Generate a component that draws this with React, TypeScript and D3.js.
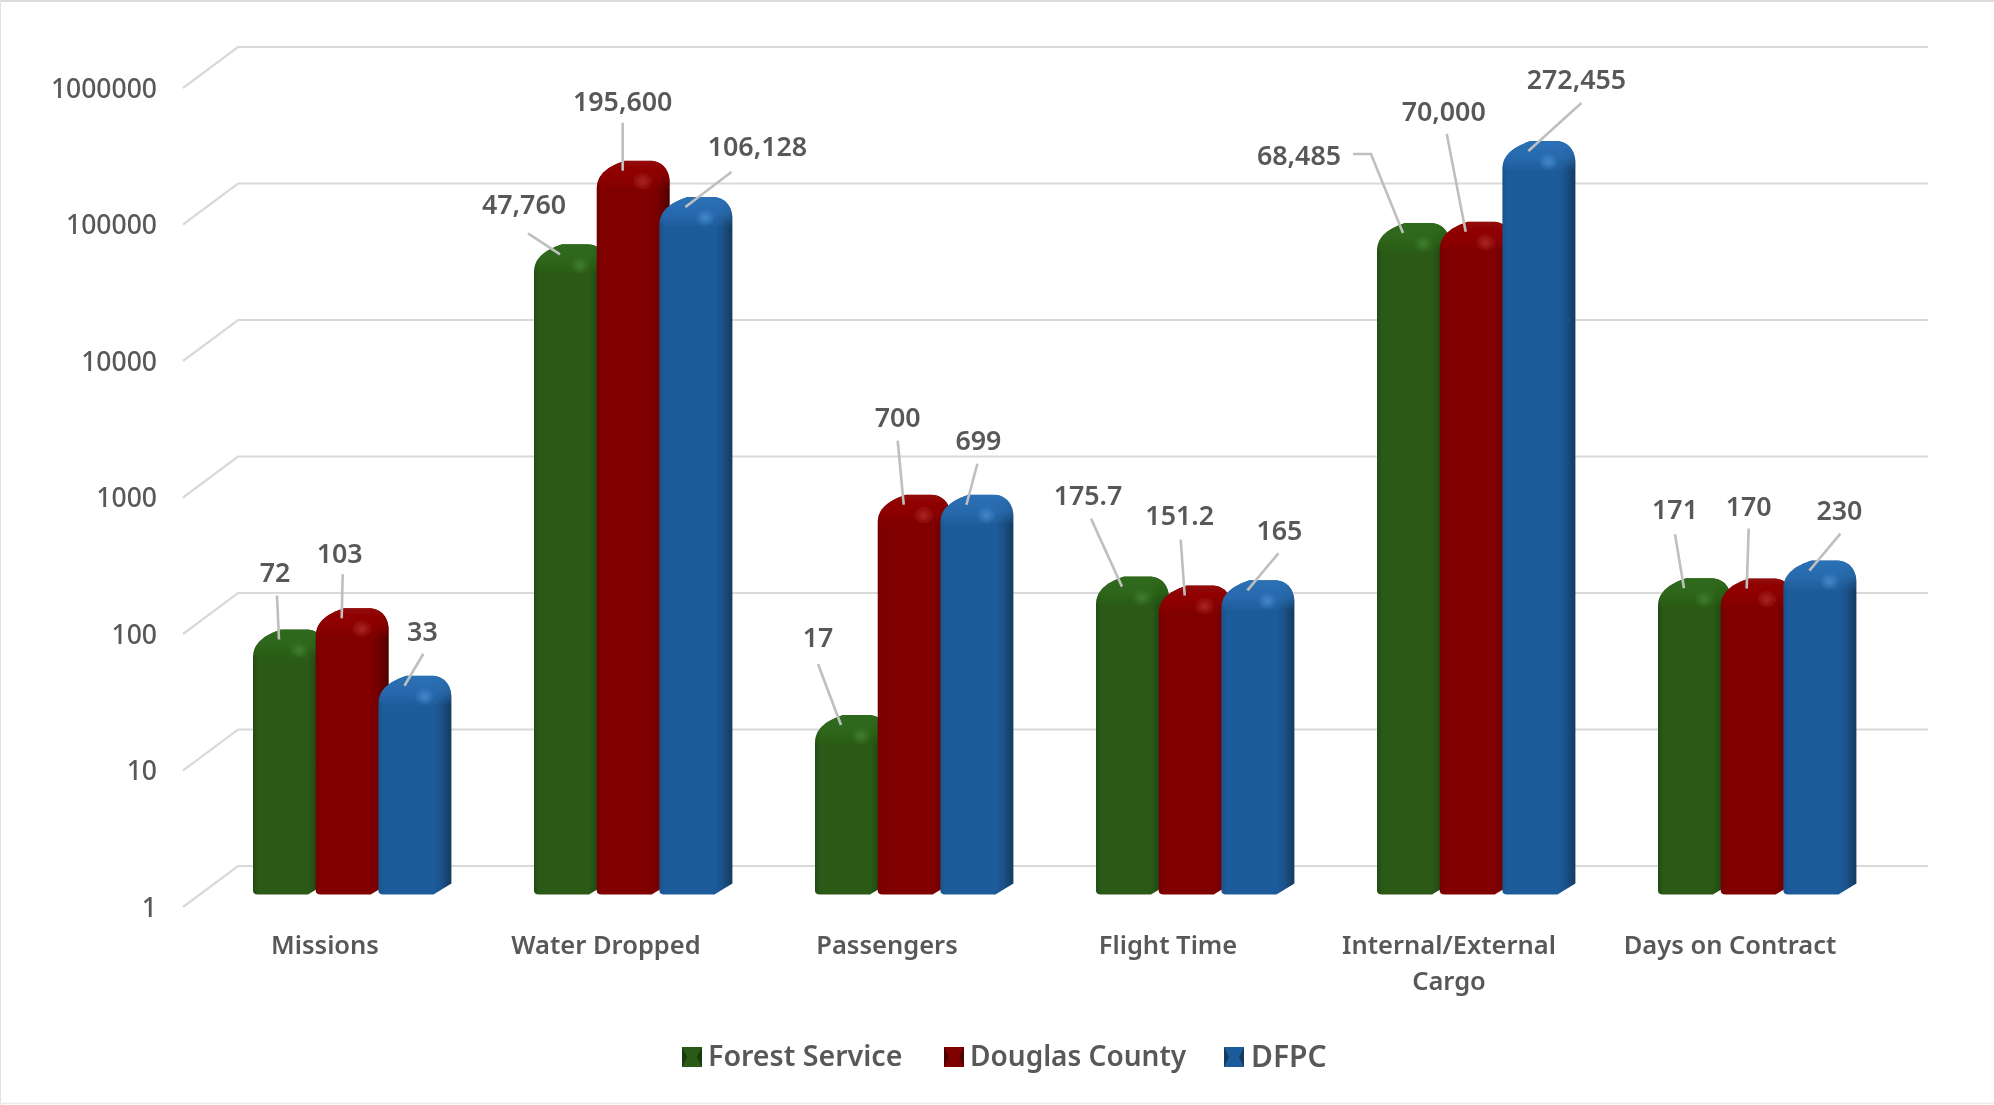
import React from "react";
import * as d3 from "d3";

const categories = ["Missions", "Water Dropped", "Passengers", "Flight Time", "Internal/External\nCargo", "Days on Contract"];
const seriesNames = ["Forest Service", "Douglas County", "DFPC"];
const forestService = [72, 47760, 17, 175.7, 68485, 171];
const douglasCounty = [103, 195600, 700, 151.2, 70000, 170];
const dfpc = [33, 106128, 699, 165, 272455, 230];
const seriesValues = [forestService, douglasCounty, dfpc];
const forestLabels = ["72", "47,760", "17", "175.7", "68,485", "171"];
const douglasLabels = ["103", "195,600", "700", "151.2", "70,000", "170"];
const dfpcLabels = ["33", "106,128", "699", "165", "272,455", "230"];
const seriesLabels = [forestLabels, douglasLabels, dfpcLabels];
const yTicks = [1, 10, 100, 1000, 10000, 100000, 1000000];

// Layout, separate from the data: label centre and leader start, relative to each bar's top anchor.
const labelOffsets = [
  [[-4, -65], [-36, -48], [-23, -85], [-34, -89], [-104, -75], [-9, -76]],
  [[-2, -63], [0, -67], [-6, -85], [-5, -78], [-22, -118], [2, -80]],
  [[18, -52], [72, -58], [12, -62], [32, -58], [48, -69], [30, -58]],
];
const leaderOffsets = [
  [[-2, -44], [-32, -21], [-23, -61], [-31, -68], [-50, -79], [-9, -54]],
  [[1, -44], [0, -48], [-6, -64], [-4, -56], [-19, -98], [2, -60]],
  [[19, -32], [46, -35], [11, -41], [31, -37], [53, -48], [31, -37]],
];
const palette = [
  { id: "g", base: "#2a5a17", edge: "#214a12", dark: "#173a0c", rim: "#2f6a1b", glow: "#478a38" },
  { id: "r", base: "#800000", edge: "#720000", dark: "#4f0000", rim: "#930707", glow: "#b93535" },
  { id: "b", base: "#1f5c9b", edge: "#1c5289", dark: "#143a60", rim: "#2b70b5", glow: "#4f97d8" },
];
const FONT = "'Noto Sans', sans-serif";
const TEXT = "#595959";

const W = 1994, H = 1105;
const x0 = d3.scaleBand<string>().domain(categories).range([183, 1869]);
const x1 = d3.scaleBand<string>().domain(seriesNames).range([0, 188.1]);
const y = d3.scaleLog().domain([1, 1000000]).range([893, 74]);
const BAR_W = 73;

function barPath(x: number, top: number, bottom: number) {
  const r = x + BAR_W;
  const p = d3.path();
  p.moveTo(x, bottom - 4);
  p.lineTo(x, top + 28);
  p.bezierCurveTo(x, top + 12, x + 14, top + 5, x + 28, top);
  p.lineTo(r - 20, top);
  p.bezierCurveTo(r - 7, top, r, top + 10, r, top + 22);
  p.lineTo(r, bottom - 11);
  p.lineTo(r - 18, bottom);
  p.lineTo(x + 5, bottom);
  p.quadraticCurveTo(x, bottom, x, bottom - 4);
  p.closePath();
  return p.toString();
}

export default function App() {
  return (
    <svg width={W} height={H} viewBox={`0 0 ${W} ${H}`} style={{ position: "absolute", left: 0, top: 0, background: "#fff" }} fontFamily={FONT}>
      <defs>
        <filter id="soft" x="-2%" y="-2%" width="104%" height="104%">
          <feGaussianBlur stdDeviation="0.55" />
        </filter>
        {palette.map((c) => (
          <React.Fragment key={c.id}>
            <linearGradient id={`side-${c.id}`} x1="0" x2="1" y1="0" y2="0">
              <stop offset="0" stopColor={c.edge} />
              <stop offset="0.07" stopColor={c.base} />
              <stop offset="0.76" stopColor={c.base} />
              <stop offset="0.86" stopColor={c.edge} />
              <stop offset="1" stopColor={c.dark} />
            </linearGradient>
            <linearGradient id={`rim-${c.id}`} x1="0" x2="0" y1="0" y2="1">
              <stop offset="0" stopColor={c.rim} />
              <stop offset="0.55" stopColor={c.rim} stopOpacity="0.7" />
              <stop offset="1" stopColor={c.rim} stopOpacity="0" />
            </linearGradient>
            <radialGradient id={`glow-${c.id}`}>
              <stop offset="0" stopColor={c.glow} stopOpacity="0.7" />
              <stop offset="1" stopColor={c.glow} stopOpacity="0" />
            </radialGradient>
          </React.Fragment>
        ))}
      </defs>

      <line x1={0} y1={1} x2={W} y2={1} stroke="#dcdcdc" strokeWidth={2} />
      <line x1={0.5} y1={0} x2={0.5} y2={H} stroke="#e2e2e2" strokeWidth={1} />
      <line x1={0} y1={H - 1.5} x2={W} y2={H - 1.5} stroke="#ececec" strokeWidth={1.5} />

      <g filter="url(#soft)">
        {yTicks.map((t) => {
          const f = y(t) + 14;
          const b = y(t) - 27;
          return (
            <g key={t}>
              <polyline points={`183,${f} 238,${b} 1928,${b}`} fill="none" stroke="#d9d9d9" strokeWidth={2.2} />
              <text x={157} y={f + 2.5} textAnchor="end" dominantBaseline="middle" fontSize={26.5} fontWeight={500} fill={TEXT}>
                {d3.format("d")(t)}
              </text>
            </g>
          );
        })}

        {categories.map((cat, ci) => {
          const start = (x0(cat) as number) + x0.bandwidth() / 2 - 70.5;
          return (
            <g key={cat}>
              {seriesNames.map((s, si) => {
                const c = palette[si];
                const x = start + (x1(s) as number);
                const top = y(seriesValues[si][ci]) - 10;
                const bottom = y(1) + 1.5;
                const clip = `clip-${ci}-${si}`;
                return (
                  <g key={s}>
                    <clipPath id={clip}>
                      <path d={barPath(x, top, bottom)} />
                    </clipPath>
                    <path d={barPath(x, top, bottom)} fill={`url(#side-${c.id})`} />
                    <g clipPath={`url(#${clip})`}>
                      <rect x={x} y={top} width={BAR_W} height={30} fill={`url(#rim-${c.id})`} />
                      <ellipse cx={x + 46} cy={top + 21} rx={10} ry={9} fill={`url(#glow-${c.id})`} />
                    </g>
                  </g>
                );
              })}
              {cat.split("\n").map((line, li) => (
                <text key={line} x={(x0(cat) as number) + x0.bandwidth() / 2 + 1.5} y={947.5 + li * 36} textAnchor="middle" dominantBaseline="middle" fontSize={25.5} fontWeight={600} fill={TEXT}>
                  {line}
                </text>
              ))}
            </g>
          );
        })}

        {categories.map((cat, ci) => {
          const start = (x0(cat) as number) + x0.bandwidth() / 2 - 70.5;
          return seriesNames.map((s, si) => {
            const ax = start + (x1(s) as number) + 26;
            const ay = y(seriesValues[si][ci]);
            const [lx, ly] = labelOffsets[si][ci];
            const [sx, sy] = leaderOffsets[si][ci];
            const pts = si === 0 && ci === 4
              ? `${ax + sx},${ay + sy} ${ax + sx + 18},${ay + sy} ${ax},${ay}`
              : `${ax + sx},${ay + sy} ${ax},${ay}`;
            return (
              <g key={s + cat}>
                <polyline points={pts} fill="none" stroke="#bfbfbf" strokeWidth={2.6} />
                <text x={ax + lx} y={ay + ly} textAnchor="middle" dominantBaseline="middle" fontSize={26.8} fontWeight={600} fill={TEXT}>
                  {seriesLabels[si][ci]}
                </text>
              </g>
            );
          });
        })}

        {seriesNames.map((s, si) => {
          const c = palette[si];
          const sw = [682, 944, 1224][si];
          return (
            <g key={s}>
              <rect x={sw} y={1047} width={20} height={20} fill={c.base} />
              <polygon points={`${sw},1047 ${sw + 5},1057 ${sw},1067`} fill={c.dark} />
              <polygon points={`${sw + 20},1047 ${sw + 15},1057 ${sw + 20},1067`} fill={c.dark} />
              <text x={sw + 26 + (si === 2 ? 1 : 0)} y={1058.5} dominantBaseline="middle" fontSize={si === 1 ? 28 : si === 2 ? 30 : 28.6} fontWeight={600} fill={TEXT}>
                {s}
              </text>
            </g>
          );
        })}
      </g>
    </svg>
  );
}
